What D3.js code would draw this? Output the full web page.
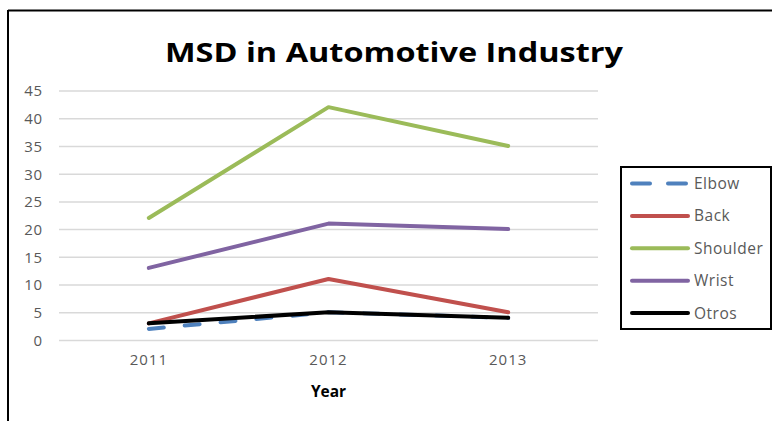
<!DOCTYPE html>
<html><head><meta charset="utf-8">
<script src="https://cdn.jsdelivr.net/npm/d3@7/dist/d3.min.js"></script>
<style>body{margin:0;background:#fff}svg{display:block}</style>
</head><body>
<script>
const years = ["2011", "2012", "2013"];
const seriesNames = ["Elbow", "Back", "Shoulder", "Wrist", "Otros"];
const elbow = [2, 5, 4];
const back = [3, 11, 5];
const shoulder = [22, 42, 35];
const wrist = [13, 21, 20];
const otros = [3, 5, 4];
const yTicks = [0, 5, 10, 15, 20, 25, 30, 35, 40, 45];
const colors = ["#4F81BD", "#C0504D", "#9BBB59", "#8064A2", "#000000"];

const seriesValues = [elbow, back, shoulder, wrist, otros];
const W = 772, H = 421;
const svg = d3.select("body").append("svg").attr("width", W).attr("height", H);
const font = "'Open Sans', 'Liberation Sans', sans-serif";

// outer frame (only top and left visible)
svg.append("line").attr("x1", 8).attr("x2", W).attr("y1", 10.5).attr("y2", 10.5).attr("stroke", "#000").attr("stroke-width", 2);
svg.append("line").attr("x1", 8).attr("x2", 8).attr("y1", 10).attr("y2", H).attr("stroke", "#000").attr("stroke-width", 2);

const x = d3.scaleBand().domain(years).range([59, 598]);
const y = d3.scaleLinear().domain([0, 45]).range([340, 90.5]);

// gridlines
const yAxis = d3.axisLeft(y).tickValues(yTicks).tickSize(-(598 - 59)).tickPadding(16);
const gy = svg.append("g").attr("transform", "translate(59,0)").call(yAxis);
gy.select(".domain").remove();
gy.selectAll(".tick line").attr("stroke", "#d9d9d9").attr("stroke-width", 1.5);
gy.selectAll(".tick text").attr("fill", "#595959").style("font-family", font).style("font-size", "15px").attr("letter-spacing", "0.8px").attr("dy", "0.36em");

const xAxis = d3.axisBottom(x).tickSize(0).tickPadding(14);
const gx = svg.append("g").attr("transform", "translate(0,340)").call(xAxis);
gx.select(".domain").remove();
gx.selectAll(".tick text").attr("fill", "#595959").style("font-family", font).style("font-size", "15px").attr("letter-spacing", "1px");

// lines
const line = d3.line().x((d, i) => x(years[i]) + x.bandwidth() / 2).y(d => y(d));
seriesValues.forEach((vals, k) => {
  const p = svg.append("path").datum(vals).attr("d", line)
    .attr("fill", "none").attr("stroke", colors[k]).attr("stroke-width", 4)
    .attr("stroke-linecap", "round").attr("stroke-linejoin", "round");
  if (k === 0) p.attr("stroke-dasharray", "15,21");
});

// title
const title = svg.append("text").attr("x", 394).attr("y", 61.5).attr("text-anchor", "middle")
  .style("font-family", font).style("font-weight", "bold").style("font-size", "26.5px")
  .attr("fill", "#000").text("MSD in Automotive Industry");
title.attr("textLength", 458).attr("lengthAdjust", "spacingAndGlyphs");

// axis title
svg.append("text").attr("x", 328.5).attr("y", 397).attr("text-anchor", "middle")
  .style("font-family", font).style("font-weight", "bold").style("font-size", "15.5px")
  .attr("fill", "#000").text("Year");

// legend
svg.append("rect").attr("x", 621).attr("y", 167).attr("width", 150).attr("height", 162)
  .attr("fill", "#fff").attr("stroke", "#000").attr("stroke-width", 2);
const ly = d3.scalePoint().domain(seriesNames).range([183.5, 313]);
seriesNames.forEach((n, k) => {
  const l = svg.append("line").attr("x1", 632).attr("x2", 688).attr("y1", ly(n)).attr("y2", ly(n))
    .attr("stroke", colors[k]).attr("stroke-width", 4).attr("stroke-linecap", "round");
  if (k === 0) l.attr("stroke-dasharray", "18,18");
  svg.append("text").attr("x", 694).attr("y", ly(n)).attr("dy", "0.36em")
    .style("font-family", font).style("font-size", "15.5px").attr("letter-spacing", "0.5px")
    .attr("fill", "#595959").text(n);
});
</script>
</body></html>
